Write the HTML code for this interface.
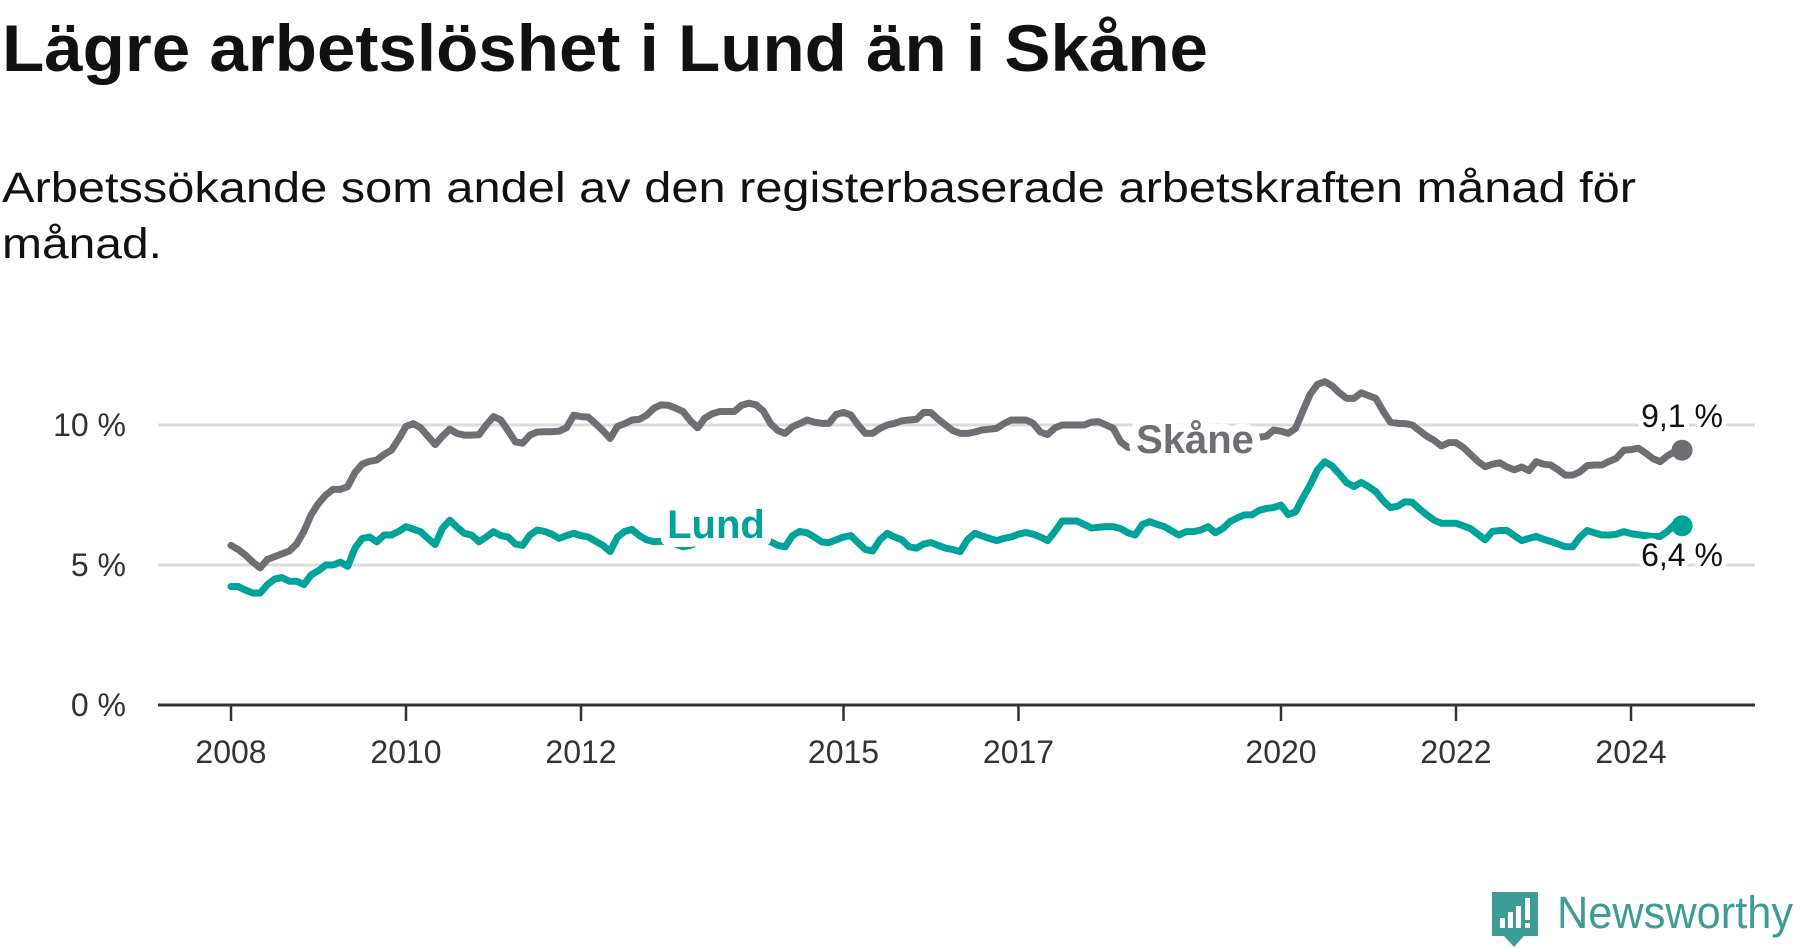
<!DOCTYPE html>
<html><head><meta charset="utf-8"><style>
html,body{margin:0;padding:0;background:#fff;}
svg{display:block;font-family:"Liberation Sans",sans-serif;}
</style></head><body>
<svg id="chart" width="1800" height="948" viewBox="0 0 1800 948" xmlns="http://www.w3.org/2000/svg">
<text x="2" y="71" font-size="66" font-weight="bold" fill="#111" textLength="1206" lengthAdjust="spacingAndGlyphs">Lägre arbetslöshet i Lund än i Skåne</text>
<text x="2" y="202" font-size="43" fill="#111" textLength="1634" lengthAdjust="spacingAndGlyphs">Arbetssökande som andel av den registerbaserade arbetskraften månad för</text>
<text x="2" y="258" font-size="43" fill="#111" textLength="160" lengthAdjust="spacingAndGlyphs">månad.</text>
<g id="grid"></g>
<g id="yaxis"></g>
<g id="xaxis"></g>
<g id="series"></g>
<g id="labels"></g>
<g>
<path d="M1492 892 h46 v44 h-14 l-10 11 l-10 -11 h-12 z" fill="#3d9c94"/>
<rect x="1500" y="918" width="5" height="10" fill="#fff"/>
<rect x="1508" y="912" width="5" height="16" fill="#fff"/>
<rect x="1516" y="906" width="5" height="22" fill="#fff"/>
<rect x="1525" y="898" width="5" height="22" fill="#fff"/>
<rect x="1525" y="923" width="5" height="5" fill="#fff"/>
<text x="1557" y="928" font-size="45" fill="#3d9c94" textLength="236" lengthAdjust="spacingAndGlyphs">Newsworthy</text>
</g>
</svg>
<script>
const yTicks = [0, 5, 10];
const yTickLabels = ["0 %", "5 %", "10 %"];
const xTickYears = [2008, 2010, 2012, 2015, 2017, 2020, 2022, 2024];
const startYear = 2008;
const skane = [5.7,5.55,5.35,5.1,4.9,5.2,5.3,5.4,5.5,5.75,6.2,6.8,7.2,7.5,7.7,7.7,7.8,8.3,8.6,8.7,
8.75,8.95,9.1,9.5,9.95,10.05,9.9,9.6,9.3,9.6,9.85,9.7,9.64,9.64,9.65,10.0,10.3,10.18,9.8,9.4,
9.35,9.64,9.75,9.76,9.76,9.78,9.9,10.35,10.3,10.28,10.05,9.8,9.52,9.95,10.05,10.18,10.2,10.35,10.6,10.72,
10.7,10.6,10.48,10.15,9.9,10.25,10.4,10.48,10.48,10.48,10.7,10.78,10.72,10.5,10.05,9.8,9.7,9.94,10.05,10.18,
10.1,10.06,10.06,10.38,10.45,10.36,10.0,9.7,9.7,9.88,10.0,10.06,10.15,10.18,10.2,10.45,10.44,10.2,10.0,9.8,
9.7,9.7,9.75,9.82,9.85,9.88,10.05,10.18,10.18,10.18,10.06,9.75,9.66,9.9,10.0,10.0,10.0,10.0,10.1,10.12,
10.0,9.88,9.4,9.2,9.2,9.3,9.4,9.4,9.5,9.5,9.6,9.6,9.6,9.6,9.7,9.7,9.7,9.6,9.6,9.6,
9.5,9.56,9.6,9.82,9.78,9.7,9.88,10.5,11.1,11.45,11.55,11.4,11.15,10.95,10.95,11.15,11.05,10.95,10.5,10.1,
10.06,10.05,10.0,9.8,9.6,9.45,9.25,9.37,9.37,9.2,8.95,8.7,8.51,8.6,8.65,8.5,8.4,8.5,8.37,8.69,
8.6,8.57,8.4,8.21,8.21,8.33,8.55,8.57,8.57,8.7,8.81,9.1,9.12,9.17,9.0,8.8,8.69,8.9,9.05,9.1];
const lund = [4.23,4.23,4.1,4.0,4.0,4.3,4.5,4.55,4.42,4.42,4.3,4.65,4.8,5.0,5.0,5.1,4.95,5.6,5.95,6.0,
5.83,6.07,6.07,6.2,6.37,6.28,6.19,5.95,5.73,6.31,6.6,6.35,6.13,6.07,5.83,6.0,6.19,6.05,6.0,5.75,
5.7,6.07,6.25,6.2,6.1,5.95,6.05,6.13,6.05,6.0,5.85,5.7,5.48,6.0,6.2,6.27,6.05,5.9,5.83,5.85,
5.8,5.75,5.65,5.7,5.8,5.9,5.95,6.0,6.0,5.95,5.9,5.9,5.9,5.85,5.83,5.7,5.65,6.05,6.2,6.15,
6.0,5.82,5.8,5.9,6.0,6.05,5.8,5.55,5.5,5.9,6.13,6.0,5.9,5.65,5.6,5.75,5.8,5.7,5.6,5.55,
5.48,5.9,6.13,6.04,5.95,5.87,5.95,6.0,6.1,6.16,6.1,6.0,5.87,6.2,6.57,6.57,6.57,6.45,6.32,6.35,
6.37,6.37,6.3,6.15,6.07,6.45,6.55,6.45,6.37,6.22,6.07,6.19,6.19,6.25,6.37,6.15,6.3,6.55,6.68,6.79,
6.79,6.95,7.02,7.05,7.14,6.8,6.9,7.4,7.86,8.4,8.69,8.54,8.25,7.94,7.8,7.95,7.8,7.62,7.3,7.05,
7.1,7.26,7.24,7.0,6.79,6.6,6.49,6.49,6.49,6.4,6.3,6.1,5.9,6.2,6.23,6.23,6.05,5.87,5.95,6.02,
5.92,5.84,5.75,5.65,5.65,6.0,6.23,6.15,6.07,6.07,6.1,6.19,6.12,6.08,6.05,6.02,6.02,6.2,6.45,6.4];
const endLabels = ["9,1 %", "6,4 %"];

const NS = "http://www.w3.org/2000/svg";
const X0 = 231, PX_YEAR = 87.5, Y0 = 705, PX_PCT = 28;
function xScale(t){ return X0 + (t - startYear) * PX_YEAR; }
function xMonth(i){ return xScale(startYear + i / 12); }
function yScale(v){ return Y0 - v * PX_PCT; }
function mk(tag, attrs, parent){ const e = document.createElementNS(NS, tag); for (const k in attrs) e.setAttribute(k, attrs[k]); parent.appendChild(e); return e; }

const grid = document.getElementById('grid');
const yaxis = document.getElementById('yaxis');
yTicks.forEach((v, i) => {
  if (v !== 0) {
    const g = mk('line', {x1:158, x2:1755, y1:yScale(v), y2:yScale(v), stroke:'#dcdcdc', 'stroke-width':3}, grid);
    
    
  }
  const t = mk('text', {x:126, y:yScale(v)+11, 'text-anchor':'end', 'font-size':32, fill:'#333'}, yaxis);
  t.textContent = yTickLabels[i];
  
  
});
const xaxis = document.getElementById('xaxis');
const axl = mk('line', {x1:158, x2:1755, y1:Y0, y2:Y0, stroke:'#333', 'stroke-width':3}, xaxis);


xTickYears.forEach(yr => {
  const tk = mk('line', {x1:xScale(yr), x2:xScale(yr), y1:Y0, y2:Y0+16, stroke:'#333', 'stroke-width':2.5}, xaxis);
  
  
  const t = mk('text', {x:xScale(yr), y:763, 'text-anchor':'middle', 'font-size':32, fill:'#333'}, xaxis);
  t.textContent = String(yr);
  
  
});

const series = document.getElementById('series');
function drawLine(vals, color, name){
  const d = vals.map((v, i) => (i ? 'L' : 'M') + xMonth(i).toFixed(2) + ' ' + yScale(v).toFixed(2)).join(' ');
  const p = mk('path', {d:d, fill:'none', stroke:color, 'stroke-width':7, 'stroke-linejoin':'round', 'stroke-linecap':'round'}, series);
  
  
  const n = vals.length - 1;
  const c = mk('circle', {cx:xMonth(n), cy:yScale(vals[n]), r:10.5, fill:color}, series);
  
  
}
drawLine(skane, '#6f6e74', 'skane');
drawLine(lund, '#00a39a', 'lund');

const labels = document.getElementById('labels');
function lbl(txt, x, y, size, color, weight, name, anchor, halo){
  const t = mk('text', {x:x, y:y, 'font-size':size, fill:color, 'font-weight':weight, 'text-anchor':anchor, stroke:'#fff', 'stroke-width':halo, 'paint-order':'stroke', 'stroke-linejoin':'round'}, labels);
  t.textContent = txt;
  
  
}
lbl('Skåne', 1195, 453, 40, '#6f6e74', 'bold', 'skane-series-label', 'middle', 16);
lbl('Lund', 716, 538, 40, '#00a39a', 'bold', 'lund-series-label', 'middle', 18);
lbl(endLabels[0], 1682, 427, 32, '#111', 'normal', 'skane-end-value', 'middle', 10);
lbl(endLabels[1], 1682, 566, 32, '#111', 'normal', 'lund-end-value', 'middle', 10);
</script>
</body></html>
